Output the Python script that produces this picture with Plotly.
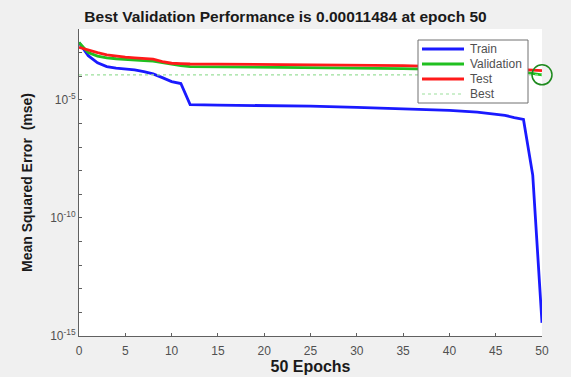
import plotly.graph_objects as go

epochs = [0, 1, 2, 3, 4, 5, 6, 7, 8, 9, 10, 11, 12, 15, 20, 25, 30, 35, 40, 43, 45, 46, 47, 48, 49, 50]
train = [2.69e-3, 7.41e-4, 3.72e-4, 2.57e-4, 2.19e-4, 2.0e-4, 1.86e-4, 1.55e-4, 1.26e-4, 8.7e-5,
         5.9e-5, 4.9e-5, 6.3e-6, 6.0e-6, 5.75e-6, 5.4e-6, 4.8e-6, 4.2e-6, 3.55e-6, 3.0e-6,
         2.5e-6, 2.2e-6, 1.78e-6, 1.48e-6, 6.5e-9, 3.6e-15]
validation = [2.69e-3, 1.0e-3, 7.1e-4, 6.0e-4, 5.5e-4, 5.1e-4, 4.9e-4, 4.6e-4, 4.4e-4, 3.7e-4,
              3.2e-4, 2.8e-4, 2.57e-4, 2.5e-4, 2.4e-4, 2.35e-4, 2.24e-4, 2.1e-4, 1.9e-4, 1.82e-4,
              1.74e-4, 1.7e-4, 1.62e-4, 1.5e-4, 1.35e-4, 1.1484e-4]
test = [1.66e-3, 1.26e-3, 1.0e-3, 8.1e-4, 7.1e-4, 6.5e-4, 6.0e-4, 5.6e-4, 5.25e-4, 4.2e-4,
        3.55e-4, 3.4e-4, 3.3e-4, 3.25e-4, 3.16e-4, 3.05e-4, 2.95e-4, 2.8e-4, 2.5e-4, 2.35e-4,
        2.2e-4, 2.1e-4, 2.0e-4, 1.9e-4, 1.8e-4, 1.74e-4]
best_epoch = 50
best_perf = 1.1484e-4

legend_names = ["Train", "Validation", "Test", "Best"]
x_ticks = [0, 5, 10, 15, 20, 25, 30, 35, 40, 45, 50]
y_tickvals = [1e-5, 1e-10, 1e-15]
y_ticktext = ["10<sup>-5</sup>", "10<sup>-10</sup>", "10<sup>-15</sup>"]
y_minor_vals = [10.0 ** -k for k in range(2, 16)]

font_family = "Liberation Sans, Arial, sans-serif"
styles = [
    dict(color="#1a1aff", width=2.8),
    dict(color="#20c020", width=2.8),
    dict(color="#ff1a1a", width=2.8),
    dict(color="#9be09b", width=1.2, dash="dot"),
]

fig = go.Figure()
for name, ys, st in zip(legend_names[:3], [train, validation, test], styles[:3]):
    fig.add_trace(go.Scatter(x=epochs, y=ys, mode="lines", name=name, line=st, showlegend=False))
fig.add_trace(go.Scatter(x=[0, best_epoch], y=[best_perf, best_perf], mode="lines", name="Best",
                         line=styles[3], showlegend=False))
fig.add_trace(go.Scatter(x=[best_epoch], y=[best_perf], mode="markers", showlegend=False,
                         cliponaxis=False,
                         marker=dict(symbol="circle-open", size=20, color="#1e8a1e",
                                     line=dict(width=1.5, color="#1e8a1e"))))

# manual legend (MATLAB-style compact box), positioned in paper coordinates
L, T, W, H = 79, 29, 463, 307  # plot area in pixels


def px(x):
    return (x - L) / W


def py(y):
    return (T + H - y) / H


shapes = [dict(type="rect", xref="paper", yref="paper", x0=px(418), x1=px(528), y0=py(103), y1=py(40),
               line=dict(color="#707070", width=1), fillcolor="#ffffff", layer="above")]
annotations = []
row_y = [49, 64, 79, 94]
for name, st, ry in zip(legend_names, styles, row_y):
    shapes.append(dict(type="line", xref="paper", yref="paper", x0=px(422), x1=px(464),
                       y0=py(ry), y1=py(ry), layer="above",
                       line=dict(color=st["color"], width=st["width"], dash=st.get("dash", "solid"))))
    annotations.append(dict(text=name, xref="paper", yref="paper", x=px(468), y=py(ry),
                            xanchor="left", yanchor="middle", showarrow=False,
                            font=dict(size=12, color="#505050", family=font_family)))

fig.update_layout(
    width=571, height=377,
    margin=dict(l=79, r=29, t=29, b=41, autoexpand=False),
    paper_bgcolor="#f0f0f0",
    plot_bgcolor="#ffffff",
    font=dict(family=font_family, size=12, color="#505050"),
    title=dict(text="<b>Best Validation Performance is 0.00011484 at epoch 50</b>",
               x=0.5, xanchor="center", y=1 - 17 / 377, yanchor="middle", yref="container",
               font=dict(size=15.5, color="#1a1a1a", family=font_family)),
    showlegend=False,
    shapes=shapes,
    annotations=annotations,
    xaxis=dict(range=[0, 50], tickvals=x_ticks, ticks="inside", ticklen=3, tickcolor="#606060",
               showgrid=False, zeroline=False, showline=True, linecolor="#606060", linewidth=1,
               tickfont=dict(size=12, color="#505050"), ticklabelstandoff=4, automargin=False,
               title=dict(text="<b>50 Epochs</b>", standoff=0,
                          font=dict(size=16, color="#1a1a1a"))),
    yaxis=dict(type="log", range=[-15, -2], tickvals=y_tickvals, ticktext=y_ticktext,
               ticks="inside", ticklen=3, tickcolor="#606060", automargin=False,
               minor=dict(tickvals=y_minor_vals, ticks="inside", ticklen=3, tickcolor="#606060",
                          showgrid=False),
               showgrid=False, zeroline=False, showline=True, linecolor="#606060", linewidth=1,
               tickfont=dict(size=12, color="#505050"),
               title=dict(text="<b>Mean Squared Error  (mse)</b>", standoff=14,
                          font=dict(size=14, color="#1a1a1a"))),
)

fig.write_html("out.html")
